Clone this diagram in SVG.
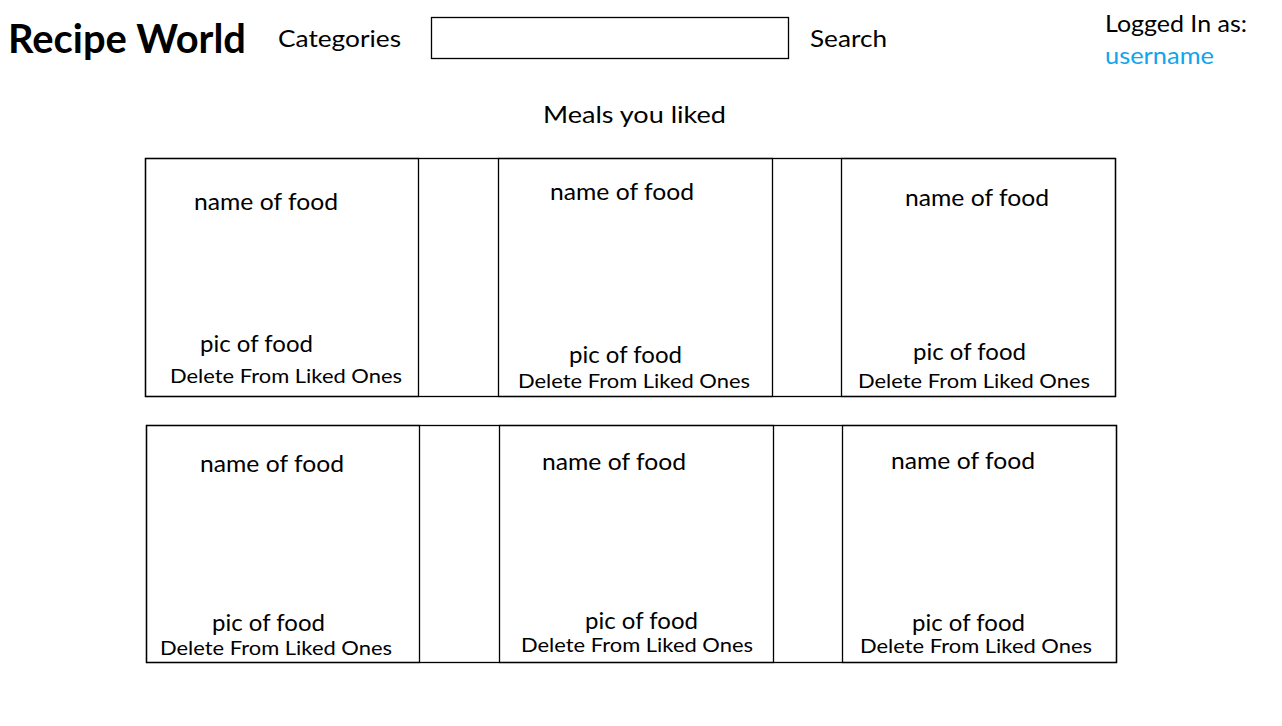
<svg xmlns="http://www.w3.org/2000/svg" width="1282" height="726" viewBox="0 0 1282 726">
<style>
text{font-family:Lato,"Liberation Sans",sans-serif;fill:#000}
.t{font-size:24px}
.d{font-size:19px}
.box{fill:none;stroke:#000;stroke-width:1.3}
</style>
<rect x="0" y="0" width="1282" height="726" fill="#fff"/>
<g id="header">
<text x="8" y="53" font-size="41" font-weight="bold" textLength="238" lengthAdjust="spacingAndGlyphs">Recipe World</text>
<text class="t" x="278" y="47" textLength="123" lengthAdjust="spacingAndGlyphs">Categories</text>
<rect class="box" x="431.5" y="17.5" width="357" height="41"/>
<text class="t" x="810" y="47" textLength="77" lengthAdjust="spacingAndGlyphs">Search</text>
<text class="t" x="1105" y="32" textLength="142" lengthAdjust="spacingAndGlyphs">Logged In as:</text>
<text class="t" x="1105" y="64" style="fill:#12A5EA" textLength="109" lengthAdjust="spacingAndGlyphs">username</text>
<text class="t" x="543" y="123" textLength="183" lengthAdjust="spacingAndGlyphs">Meals you liked</text>
</g>
<g id="row1">
<rect class="box" x="145.5" y="158.5" width="970" height="238"/>
</g>
<g id="row2">
<rect class="box" x="146.5" y="425.5" width="970" height="237"/>
</g>
<g id="card1">
<rect class="box" x="145.5" y="158.5" width="273" height="238"/>
<text class="t" x="194" y="210" textLength="144" lengthAdjust="spacingAndGlyphs">name of food</text>
<text class="t" x="200" y="352" textLength="113" lengthAdjust="spacingAndGlyphs">pic of food</text>
<text class="d" x="170" y="383" textLength="232" lengthAdjust="spacingAndGlyphs">Delete From Liked Ones</text>
</g>
<g id="card2">
<rect class="box" x="498.5" y="158.5" width="274" height="238"/>
<text class="t" x="550" y="200" textLength="144" lengthAdjust="spacingAndGlyphs">name of food</text>
<text class="t" x="569" y="363" textLength="113" lengthAdjust="spacingAndGlyphs">pic of food</text>
<text class="d" x="518" y="388" textLength="232" lengthAdjust="spacingAndGlyphs">Delete From Liked Ones</text>
</g>
<g id="card3">
<rect class="box" x="841.5" y="158.5" width="274" height="238"/>
<text class="t" x="905" y="206" textLength="144" lengthAdjust="spacingAndGlyphs">name of food</text>
<text class="t" x="913" y="360" textLength="113" lengthAdjust="spacingAndGlyphs">pic of food</text>
<text class="d" x="858" y="388" textLength="232" lengthAdjust="spacingAndGlyphs">Delete From Liked Ones</text>
</g>
<g id="card4">
<rect class="box" x="146.5" y="425.5" width="273" height="237"/>
<text class="t" x="200" y="472" textLength="144" lengthAdjust="spacingAndGlyphs">name of food</text>
<text class="t" x="212" y="631" textLength="113" lengthAdjust="spacingAndGlyphs">pic of food</text>
<text class="d" x="160" y="655" textLength="232" lengthAdjust="spacingAndGlyphs">Delete From Liked Ones</text>
</g>
<g id="card5">
<rect class="box" x="499.5" y="425.5" width="274" height="237"/>
<text class="t" x="542" y="470" textLength="144" lengthAdjust="spacingAndGlyphs">name of food</text>
<text class="t" x="585" y="629" textLength="113" lengthAdjust="spacingAndGlyphs">pic of food</text>
<text class="d" x="521" y="652" textLength="232" lengthAdjust="spacingAndGlyphs">Delete From Liked Ones</text>
</g>
<g id="card6">
<rect class="box" x="842.5" y="425.5" width="274" height="237"/>
<text class="t" x="891" y="469" textLength="144" lengthAdjust="spacingAndGlyphs">name of food</text>
<text class="t" x="912" y="631" textLength="113" lengthAdjust="spacingAndGlyphs">pic of food</text>
<text class="d" x="860" y="653" textLength="232" lengthAdjust="spacingAndGlyphs">Delete From Liked Ones</text>
</g>
<g id="connectors"></g>
</svg>
